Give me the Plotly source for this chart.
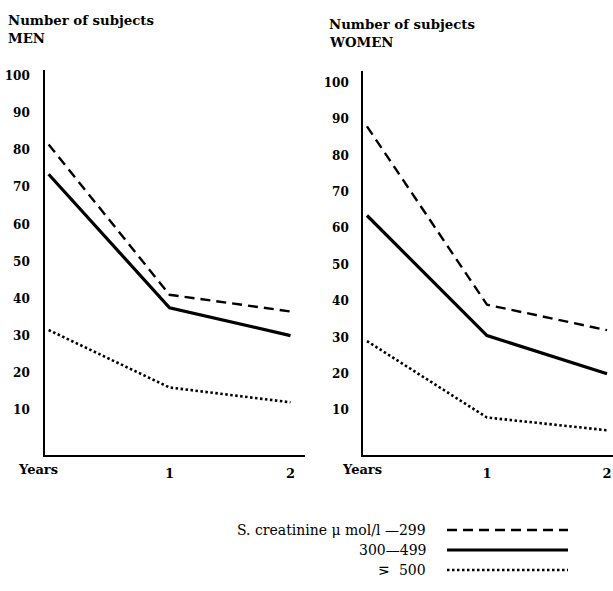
import plotly.graph_objects as go

# Follow-up time points (years) and tick labels
years = [0, 1, 2]
x_ticktext = ["", "1", "2"]
y_ticks = [10, 20, 30, 40, 50, 60, 70, 80, 90, 100]

# Number of subjects by serum creatinine group
men_low = [81.5, 41, 36.5]      # up to 299 µmol/l
men_mid = [73.5, 37.5, 30]      # 300-499
men_high = [31.5, 16, 12]       # 500 and above

women_low = [88, 39, 32]
women_mid = [63.5, 30.5, 20]
women_high = [29, 8, 4.5]

legend_labels = ["S. creatinine \u03bc mol/l \u2014299", "300\u2014499", "\u22dd  500"]

W, H = 613, 591
FONT = "DejaVu Serif"
styles = [
    dict(color="black", width=2.4, dash="10px,6px"),
    dict(color="black", width=3.2, dash="solid"),
    dict(color="black", width=2.6, dash="2.5px,2.5px"),
]

fig = go.Figure()
panels = [
    ("x", "y", [men_low, men_mid, men_high]),
    ("x2", "y2", [women_low, women_mid, women_high]),
]
for xa, ya, series in panels:
    for vals, st in zip(series, styles):
        fig.add_trace(go.Scatter(x=years, y=vals, mode="lines", line=st,
                                 xaxis=xa, yaxis=ya, showlegend=False,
                                 hoverinfo="skip"))


def px_x(p):
    return p / W


def px_y(p):
    return 1 - p / H


axis_common = dict(showgrid=False, zeroline=False, showline=True,
                   linecolor="black", linewidth=1.6, ticks="")
tick_font = dict(family=FONT, size=12, color="black", weight="bold")
xtick_font = dict(family=FONT, size=13, color="black", weight="bold")

fig.update_layout(
    width=W, height=H,
    margin=dict(l=0, r=0, t=0, b=0),
    paper_bgcolor="white", plot_bgcolor="white",
    xaxis=dict(domain=[px_x(45), px_x(305)], range=[-0.03, 2.12],
               tickvals=years, ticktext=x_ticktext, anchor="y",
               ticklabelstandoff=6, tickfont=xtick_font, **axis_common),
    yaxis=dict(domain=[px_y(455), px_y(70)], range=[-2.2, 101.6],
               tickvals=y_ticks, anchor="x", ticklabelstandoff=11,
               tickfont=tick_font, **axis_common),
    xaxis2=dict(domain=[px_x(363), 1.0], range=[-0.033, 2.05],
                tickvals=years, ticktext=x_ticktext, anchor="y2",
                ticklabelstandoff=6, tickfont=xtick_font, **axis_common),
    yaxis2=dict(domain=[px_y(455), px_y(71)], range=[-2.3, 103.2],
                tickvals=y_ticks, anchor="x2", ticklabelstandoff=10,
                tickfont=tick_font, **axis_common),
)

# "Years" caption under the start of each time axis
for xc in (38, 362):
    fig.add_annotation(text="<b>Years</b>", xref="paper", yref="paper",
                       x=px_x(xc), y=px_y(469), xanchor="center", yanchor="middle",
                       showarrow=False, font=dict(family=FONT, size=13, color="black"))

title_font = dict(family=FONT, size=13.3, color="black")
for x0, y0, sex in [(6, 20, "MEN"), (327, 24, "WOMEN")]:
    fig.add_annotation(text="<b>Number of subjects</b>", xref="paper", yref="paper",
                       x=px_x(x0), y=px_y(y0), xanchor="left", yanchor="middle",
                       showarrow=False, font=title_font)
    fig.add_annotation(text="<b>" + sex + "</b>", xref="paper", yref="paper",
                       x=px_x(x0), y=px_y(y0 + 19), xanchor="left", yanchor="middle",
                       showarrow=False, font=title_font)

# Key: line samples beside right-aligned labels
row_y = [530, 550, 570]
for lab, st, ry in zip(legend_labels, styles, row_y):
    fig.add_annotation(text=lab, xref="paper", yref="paper",
                       x=px_x(428), y=px_y(ry), xanchor="right", yanchor="middle",
                       showarrow=False, font=dict(family=FONT, size=14, color="black"))
    fig.add_shape(type="line", xref="paper", yref="paper",
                  x0=px_x(447), x1=px_x(568), y0=px_y(ry), y1=px_y(ry),
                  line=st)

fig.write_html("out.html")
